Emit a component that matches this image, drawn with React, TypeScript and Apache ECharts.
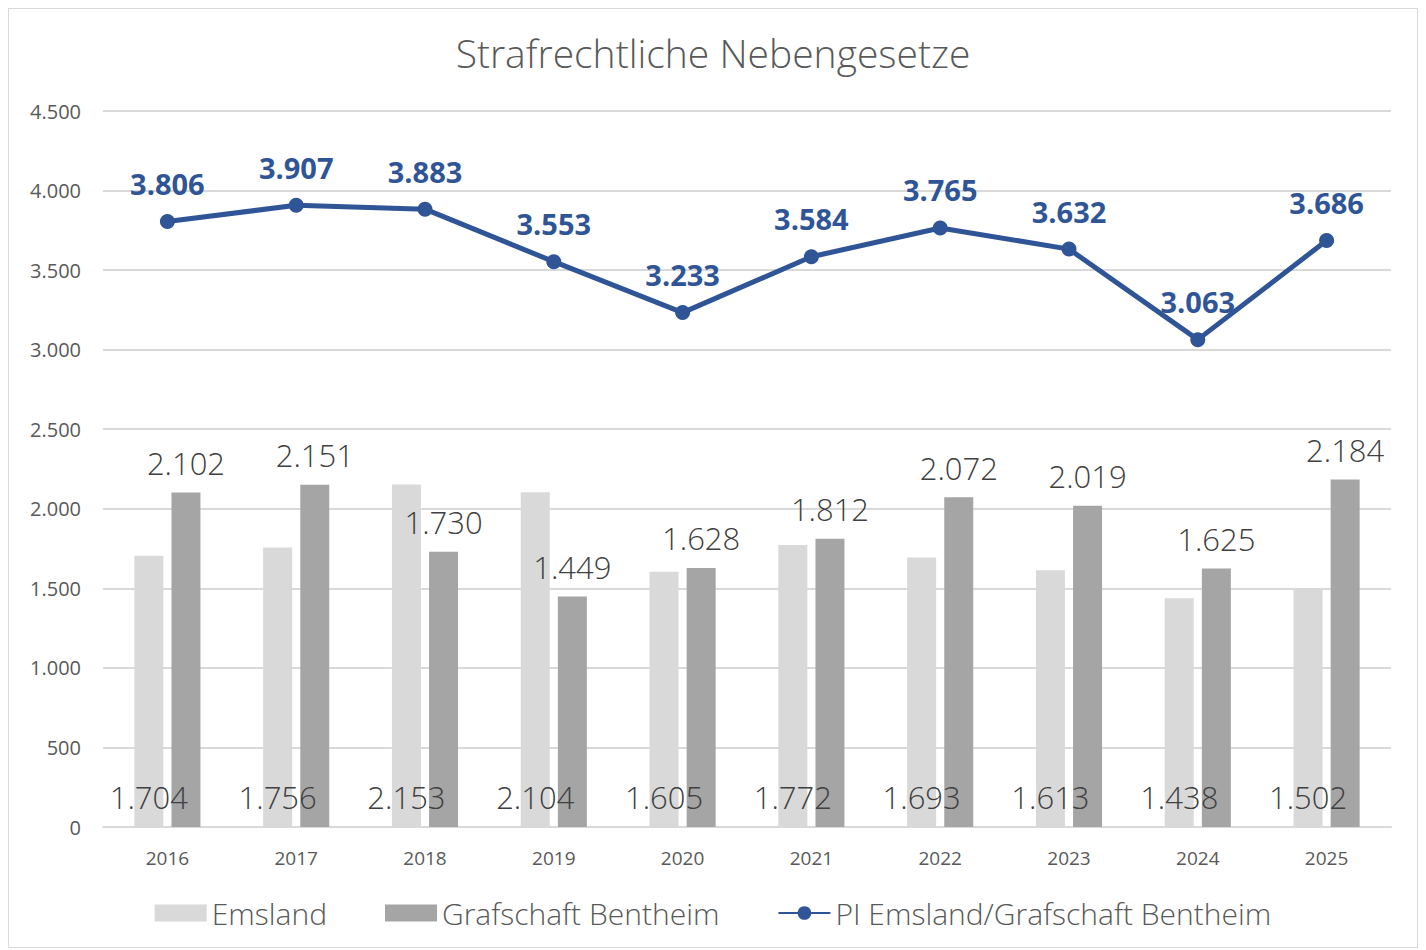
import React, { useEffect, useRef } from "react";
import * as echarts from "echarts";

const categories = ["2016", "2017", "2018", "2019", "2020", "2021", "2022", "2023", "2024", "2025"];
const emsland = [1704, 1756, 2153, 2104, 1605, 1772, 1693, 1613, 1438, 1502];
const bentheim = [2102, 2151, 1730, 1449, 1628, 1812, 2072, 2019, 1625, 2184];
const pi = [3806, 3907, 3883, 3553, 3233, 3584, 3765, 3632, 3063, 3686];

const fmt = (v: number) => String(Math.round(v)).replace(/\B(?=(\d{3})+(?!\d))/g, ".");
const FONT = "'Open Sans', 'Noto Sans', sans-serif";

export default function App() {
  const ref = useRef<HTMLDivElement>(null);
  useEffect(() => {
    if (!ref.current) return;
    const chart = echarts.init(ref.current, undefined, { renderer: "svg" });
    chart.setOption({
      animation: false,
      backgroundColor: "#ffffff",
      textStyle: { fontFamily: FONT },
      title: {
        text: "Strafrechtliche Nebengesetze",
        left: "center",
        top: 19,
        textStyle: { fontFamily: FONT, fontSize: 39, fontWeight: 300, color: "#595959" },
      },
      grid: { left: 94, right: 26, top: 102, bottom: 120 },
      legend: {
        bottom: 14,
        left: "center",
        itemWidth: 52,
        itemHeight: 17,
        itemGap: 58,
        textStyle: { fontFamily: FONT, fontSize: 30, fontWeight: 300, color: "#595959", padding: [0, 0, 0, 0] },
        data: [
          { name: "Emsland", icon: "rect" },
          { name: "Grafschaft Bentheim", icon: "rect" },
          { name: "PI Emsland/Grafschaft Bentheim" },
        ],
      },
      xAxis: {
        type: "category",
        data: categories,
        axisLine: { lineStyle: { color: "#d9d9d9", width: 2 } },
        axisTick: { show: false },
        axisLabel: { fontFamily: FONT, fontSize: 19, color: "#595959", margin: 21 },
      },
      yAxis: {
        type: "value",
        min: 0,
        max: 4500,
        interval: 500,
        axisLine: { show: false },
        axisTick: { show: false },
        splitLine: { lineStyle: { color: "#d9d9d9", width: 2 } },
        axisLabel: { fontFamily: FONT, fontSize: 20, color: "#595959", margin: 22, formatter: (v: number) => fmt(v) },
      },
      series: [
        {
          name: "Emsland",
          type: "bar",
          data: emsland,
          barWidth: 29,
          barGap: "28%",
          itemStyle: { color: "#d9d9d9" },
          label: {
            show: true,
            position: ["50%", "100%"],
            offset: [0, -30],
            align: "center",
            verticalAlign: "middle",
            fontFamily: FONT,
            fontSize: 31,
            fontWeight: 300,
            color: "#404040",
            formatter: (p: any) => fmt(p.value),
          },
        },
        {
          name: "Grafschaft Bentheim",
          type: "bar",
          data: bentheim,
          barWidth: 29,
          itemStyle: { color: "#a5a5a5" },
          label: {
            show: true,
            position: "top",
            distance: 14,
            fontFamily: FONT,
            fontSize: 31,
            fontWeight: 300,
            color: "#404040",
            formatter: (p: any) => fmt(p.value),
          },
        },
        {
          name: "PI Emsland/Grafschaft Bentheim",
          type: "line",
          data: pi,
          symbol: "circle",
          symbolSize: 15,
          lineStyle: { color: "#2f5597", width: 5 },
          itemStyle: { color: "#2f5597" },
          label: {
            show: true,
            position: "top",
            distance: 16,
            fontFamily: FONT,
            fontSize: 29,
            fontWeight: "bold",
            color: "#2f5597",
            formatter: (p: any) => fmt(p.value),
          },
        },
      ],
    });
    return () => chart.dispose();
  }, []);
  return (
    <div
      ref={ref}
      style={{ width: 1410, height: 940, border: "1px solid #d9d9d9", boxSizing: "border-box" }}
    />
  );
}
